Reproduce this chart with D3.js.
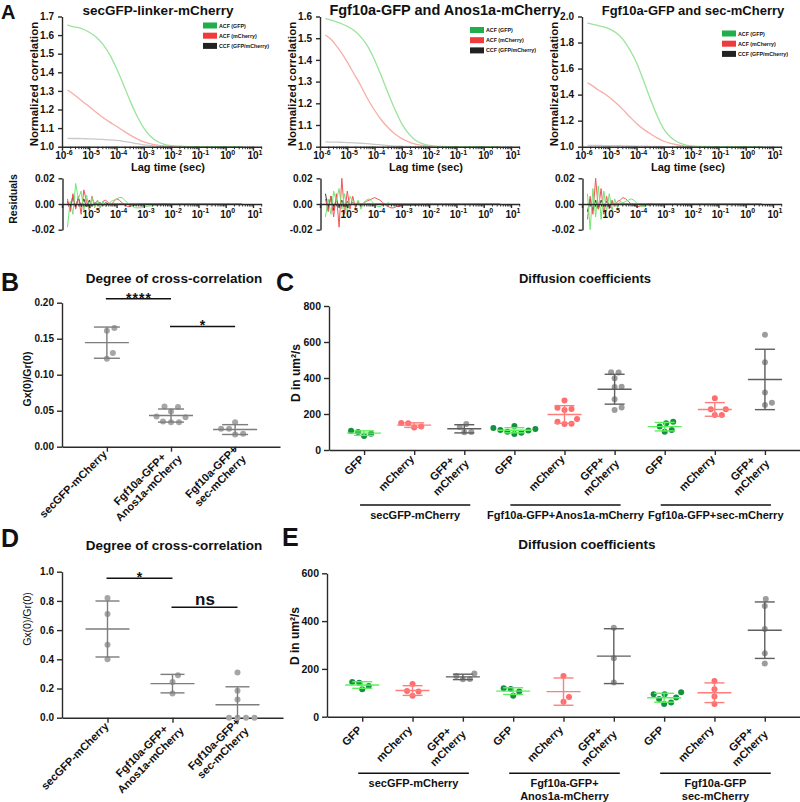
<!DOCTYPE html>
<html>
<head>
<meta charset="utf-8">
<script src="https://cdn.jsdelivr.net/npm/d3@7"></script>
<style>
html,body{margin:0;padding:0;background:#fff;}
svg{display:block;}
text{font-family:Arial,"Liberation Sans",Helvetica,sans-serif;}
</style>
</head>
<body>
<svg id="fig" width="800" height="802"></svg>
<script>
// ================= DATA =================
// Panel A – FCS correlation curves, lag time as log10(seconds)
const acfLag = [-5.8,-5.6,-5.4,-5.2,-5.0,-4.75,-4.5,-4.25,-4.0,-3.75,-3.5,-3.25,-3.0,-2.75,-2.5,-2.25,-2.0,-1.5,-1.0,0.0,0.6];
const gfp1 = [1.655,1.645,1.64,1.63,1.615,1.59,1.55,1.495,1.42,1.335,1.245,1.165,1.10,1.055,1.028,1.013,1.006,1.002,1.0,1.0,1.0];
const mch1 = [1.305,1.285,1.262,1.238,1.215,1.185,1.157,1.132,1.11,1.085,1.062,1.042,1.026,1.015,1.008,1.004,1.002,1.0,1.0,1.0,1.0];
const ccf1 = [1.045,1.044,1.044,1.043,1.042,1.041,1.039,1.037,1.034,1.029,1.023,1.016,1.010,1.006,1.003,1.001,1.0,1.0,1.0,1.0,1.0];
const gfp2 = [1.59,1.583,1.575,1.566,1.555,1.535,1.505,1.462,1.40,1.325,1.245,1.17,1.105,1.06,1.03,1.014,1.006,1.001,1.0,1.0,1.0];
const mch2 = [1.515,1.495,1.465,1.43,1.39,1.335,1.28,1.22,1.168,1.123,1.087,1.058,1.037,1.022,1.012,1.006,1.003,1.0,1.0,1.0,1.0];
const ccf2 = [1.022,1.021,1.021,1.02,1.019,1.018,1.016,1.014,1.011,1.008,1.005,1.003,1.002,1.001,1.0,1.0,1.0,1.0,1.0,1.0,1.0];
const gfp3 = [1.95,1.94,1.93,1.92,1.905,1.875,1.825,1.745,1.645,1.51,1.37,1.24,1.135,1.072,1.036,1.016,1.007,1.002,1.0,1.0,1.0];
const mch3 = [1.49,1.465,1.435,1.41,1.38,1.335,1.285,1.23,1.178,1.135,1.1,1.068,1.042,1.025,1.013,1.006,1.003,1.001,1.0,1.0,1.0];
const ccf3 = [1.01,1.01,1.01,1.009,1.009,1.008,1.007,1.006,1.005,1.004,1.003,1.002,1.001,1.0,1.0,1.0,1.0,1.0,1.0,1.0,1.0];

// Panel A – fit residuals
const resLag = [-5.8,-5.7,-5.6,-5.5,-5.4,-5.3,-5.2,-5.1,-5.0,-4.9,-4.8,-4.7,-4.6,-4.5,-4.4,-4.3,-4.2,-4.1,-4.0,-3.9,-3.8,-3.7,-3.6,-3.5,-3.4,-3.3,-3.2,-3.1,-3.0,-2.5,-2.0,-1.0,0.0,0.6];
const resG1 = [-0.018,0.002,-0.008,0.016,0.004,0.010,-0.005,0.007,-0.004,0.005,-0.003,0.003,-0.003,0.002,-0.002,0.000,0.002,0.003,0.004,0.005,0.005,0.003,0.001,-0.001,-0.002,-0.003,-0.003,-0.003,-0.002,-0.001,0,0,0,0];
const resR1 = [0.004,-0.006,0.008,-0.004,0.006,-0.008,0.011,0.002,-0.005,0.006,-0.002,0.003,-0.003,0.002,0.003,0.001,-0.001,0.002,0.004,0.003,0.001,-0.001,-0.002,-0.002,-0.001,-0.001,0,0,0,0,0,0,0,0];
const resK1 = [0.002,-0.004,0.006,-0.003,0.005,-0.002,0.004,-0.002,0.003,-0.002,0.001,0.000,0.001,-0.001,0.001,0,0,0,0,0,0,0,0,0,0,0,0,0,0,0,0,0,0,0];
const resG2 = [-0.010,0.004,-0.008,0.010,0.002,0.012,-0.004,0.008,-0.006,0.006,0.002,-0.002,0.003,-0.004,0.001,0.003,0.004,0.002,0.000,-0.002,-0.002,-0.001,0.000,0.001,0.000,-0.001,-0.001,0,0,0,0,0,0,0];
const resR2 = [0.004,-0.006,0.006,-0.010,0.008,-0.018,0.020,-0.008,0.010,-0.004,0.006,-0.003,0.002,-0.002,0.001,0.002,0.003,0.004,0.005,0.004,0.003,0.001,-0.001,-0.002,-0.003,-0.003,-0.002,-0.002,-0.001,-0.001,0,0,0,0];
const resK2 = [0.008,-0.004,0.006,-0.005,0.004,-0.003,0.003,-0.002,0.002,-0.001,0.001,0,0,0,0,0,0,0,0,0,0,0,0,0,0,0,0,0,0,0,0,0,0,0];
const resG3 = [0.008,-0.020,0.012,-0.010,0.014,-0.012,0.010,-0.006,0.008,-0.005,0.004,-0.003,0.002,0.001,0.002,0.003,0.004,0.003,0.001,-0.001,-0.002,-0.002,-0.001,-0.001,0,0,0,0,0,0,0,0,0,0];
const resR3 = [-0.012,0.006,-0.008,0.020,-0.004,0.012,-0.008,0.006,-0.004,0.003,-0.002,0.002,0.003,0.005,0.004,0.002,0.000,-0.001,-0.002,-0.002,-0.001,-0.001,0,0,0,0,0,0,0,0,0,0,0,0];
const resK3 = [-0.006,0.004,-0.005,0.003,-0.004,0.003,-0.002,0.002,-0.001,0.001,0,0,0,0,0,0,0,0,0,0,0,0,0,0,0,0,0,0,0,0,0,0,0,0];

const fcsTitles = ["secGFP-linker-mCherry","Fgf10a-GFP and Anos1a-mCherry","Fgf10a-GFP and sec-mCherry"];
const legendLabels = ["ACF (GFP)","ACF (mCherry)","CCF (GFP/mCherry)"];
const yTicksA1 = [1.0,1.1,1.2,1.3,1.4,1.5,1.6,1.7];
const yTicksA2 = [1.0,1.1,1.2,1.3,1.4,1.5,1.6];
const yTicksA3 = [1.0,1.2,1.4,1.6,1.8,2.0];
const resTicks = [-0.02,0,0.02];
const decadeExp = [-6,-5,-4,-3,-2,-1,0,1];

// Panels B & D – degree of cross-correlation
const ccCategories = [["secGFP-mCherry"],["Fgf10a-GFP+","Anos1a-mCherry"],["Fgf10a-GFP+","sec-mCherry"]];
const ccB = [[0.165,0.161,0.130,0.122],[0.055,0.049,0.056,0.042,0.041,0.034,0.034,0.035],[0.034,0.025,0.025,0.017,0.018]];
const ccD = [[0.82,0.71,0.50,0.40],[0.29,0.245,0.165],[0.31,0.185,0.125,0,0,0,0]];
const yTicksB = [0,0.05,0.10,0.15,0.20];
const yTicksD = [0,0.2,0.4,0.6,0.8,1.0];
const sigB = [{a:0,b:1,y:0.2055,label:"****"},{a:1,b:2,y:0.167,label:"*"}];
const sigD = [{a:0,b:1,y:0.955,label:"*"},{a:1,b:2,y:0.756,label:"ns"}];

// Panels C & E – diffusion coefficients
const diffLabels = [["GFP"],["mCherry"],["GFP+","mCherry"],["GFP"],["mCherry"],["GFP+","mCherry"],["GFP"],["mCherry"],["GFP+","mCherry"]];
const diffKind = ["gfp","mch","both","gfp","mch","both","gfp","mch","both"];
const diffC = [[100,107,78,90],[148,150,125,130],[128,145,100,98],[117,122,133,111,89,102,108,96],[275,228,235,222,157,172,144,146],[430,432,398,352,350,282,222,236],[157,148,130,111,102],[287,226,226,194,194],[640,487,320,263,250]];
const diffE = [[142,145,115,128],[137,108,105,88],[181,170,158,157],[116,88,105,119],[170,82,63],[372,245,143],[94,94,102,74,80,53,59],[149,115,84,53],[492,463,367,265,223]];
const groupsC = [["secGFP-mCherry"],["Fgf10a-GFP+Anos1a-mCherry"],["Fgf10a-GFP+sec-mCherry"]];
const groupsE = [["secGFP-mCherry"],["Fgf10a-GFP+","Anos1a-mCherry"],["Fgf10a-GFP","sec-mCherry"]];
const yTicksC = [0,200,400,600,800];
const yTicksE = [0,200,400,600];

// ================= DRAWING =================
const svg = d3.select("#fig");
const INK = "#111";
const AX = "#2a2a2a";
const kindStyle = {
  gfp:{dot:"#13913e", line:"#5cf05c"},
  mch:{dot:"#ff6d6d", line:"#ff7d7d"},
  both:{dot:"#9c9c9c", line:"#5e5e5e"},
  cc:{dot:"#a6a6a6", line:"#7d7d7d"}
};

function styleAxis(sel, fs, weight){
  sel.attr("font-family",null);
  sel.select(".domain").attr("stroke",AX).attr("stroke-width",1.4);
  sel.selectAll(".tick line").attr("stroke",AX).attr("stroke-width",1.4);
  sel.selectAll(".tick text").attr("font-size",fs).attr("font-weight",weight||"bold").attr("fill",INK);
}

function txt(g, x, y, s, fs, opts){
  opts = opts||{};
  const t = g.append("text").attr("x",x).attr("y",y).attr("font-size",fs)
    .attr("font-weight",opts.weight||"bold").attr("fill",INK)
    .attr("text-anchor",opts.anchor||"middle").text(s);
  if(opts.rotate) t.attr("transform",`rotate(${opts.rotate},${x},${y})`);
  if(opts.ls) t.attr("letter-spacing",opts.ls);
  return t;
}

// ---------- Panel A ----------
const fcsCfg = [
  {gfp:gfp1,mch:mch1,ccf:ccf1,rg:resG1,rr:resR1,rk:resK1,yTicks:yTicksA1,yMax:1.7,left:62,right:253,tx:158,tsize:13.5,lx:203,ly:25.5,ylx:38,resLabel:true},
  {gfp:gfp2,mch:mch2,ccf:ccf2,rg:resG2,rr:resR2,rk:resK2,yTicks:yTicksA2,yMax:1.6,left:320,right:511,tx:445,tsize:14.5,lx:470,ly:30,ylx:296,resLabel:false},
  {gfp:gfp3,mch:mch3,ccf:ccf3,rg:resG3,rr:resR3,rk:resK3,yTicks:yTicksA3,yMax:2.0,left:582,right:773,tx:693,tsize:13,lx:722,ly:33.5,ylx:558,resLabel:false}
];
const minorVals = [];
d3.range(-6,1).forEach(e=>{ for(let m=2;m<=9;m++) minorVals.push(m*Math.pow(10,e)); });
minorVals.push(20);

fcsCfg.forEach((c,idx)=>{
  const g = svg.append("g");
  const x = d3.scaleLog().domain([1e-6,10]).range([c.left,c.right]);
  const y = d3.scaleLinear().domain([1,c.yMax]).range([146.7,16.5]);
  const ext = 9;
  const line = d3.line().x((d,i)=>x(Math.pow(10,acfLag[i]))).y(d=>y(d)).curve(d3.curveMonotoneX);
  [[c.ccf,"#c9c9c9"],[c.mch,"#f7aea6"],[c.gfp,"#9be49b"]].forEach(([arr,col])=>{
    g.append("path").attr("d",line(arr)).attr("fill","none").attr("stroke",col).attr("stroke-width",1.3);
  });
  // y axis
  const ya = g.append("g").attr("transform",`translate(${c.left},0)`)
    .call(d3.axisLeft(y).tickValues(c.yTicks).tickFormat(v=>v.toFixed(1)).tickSize(4).tickSizeOuter(0).tickPadding(4));
  styleAxis(ya,10);
  // x axis
  const xa = g.append("g").attr("transform","translate(0,146.7)")
    .call(d3.axisBottom(x).tickValues(decadeExp.map(e=>Math.pow(10,e))).tickFormat(()=>"").tickSize(4).tickSizeOuter(0));
  styleAxis(xa,10);
  xa.select(".domain").attr("d",`M${c.left},0.5H${c.right+ext}`);
  const xm = g.append("g").attr("transform","translate(0,146.7)")
    .call(d3.axisBottom(x).tickValues(minorVals).tickFormat(()=>"").tickSize(2.5));
  xm.select(".domain").remove();
  xm.selectAll(".tick line").attr("stroke",AX).attr("stroke-width",1);
  decadeExp.forEach(e=>{
    const t = g.append("text").attr("x",x(Math.pow(10,e))+2).attr("y",159).attr("text-anchor","middle")
      .attr("font-size",10).attr("font-weight","bold").attr("fill",INK);
    t.append("tspan").text("10");
    t.append("tspan").attr("dy",-4.5).attr("font-size",7).text(String(e));
  });
  txt(g,(c.left+c.right+ext)/2+6,171,"Lag time (sec)",11);
  txt(g,c.ylx,84,"Normalized correlation",11.5,{rotate:-90});
  txt(g,c.tx,15,fcsTitles[idx],c.tsize);
  // legend
  const lcols = ["#1fae4b","#ef3b3b","#222222"];
  legendLabels.forEach((s,i)=>{
    const yy = c.ly + i*10.2;
    g.append("rect").attr("x",c.lx).attr("y",yy-3).attr("width",14).attr("height",6).attr("fill",lcols[i]);
    txt(g,c.lx+16,yy+2,s,5.3,{anchor:"start"});
  });

  // residuals
  const ry = d3.scaleLinear().domain([-0.02,0.02]).range([229.7,178.3]);
  const rline = d3.line().x((d,i)=>x(Math.pow(10,resLag[i]))).y(d=>ry(d));
  [[c.rk,"#3a3a3a"],[c.rr,"#f25555"],[c.rg,"#72e472"]].forEach(([arr,col])=>{
    g.append("path").attr("d",rline(arr)).attr("fill","none").attr("stroke",col).attr("stroke-width",1);
  });
  const rya = g.append("g").attr("transform",`translate(${c.left+0.5},0)`)
    .call(d3.axisLeft(ry).tickValues(resTicks).tickFormat(v=>v.toFixed(2)).tickSize(4).tickSizeOuter(0).tickPadding(4));
  styleAxis(rya,10);
  const rxa = g.append("g").attr("transform",`translate(0,${ry(0)})`)
    .call(d3.axisBottom(x).tickValues(decadeExp.map(e=>Math.pow(10,e))).tickFormat(()=>"").tickSize(4).tickSizeOuter(0));
  styleAxis(rxa,10);
  rxa.select(".domain").attr("d",`M${c.left},0.5H${c.right+ext}`);
  const rxm = g.append("g").attr("transform",`translate(0,${ry(0)})`)
    .call(d3.axisBottom(x).tickValues(minorVals).tickFormat(()=>"").tickSize(2.5));
  rxm.select(".domain").remove();
  rxm.selectAll(".tick line").attr("stroke",AX).attr("stroke-width",1);
  decadeExp.filter(e=>e>-6).forEach(e=>{
    const t = g.append("text").attr("x",x(Math.pow(10,e))+2).attr("y",217.5).attr("text-anchor","middle")
      .attr("font-size",10).attr("font-weight","bold").attr("fill",INK);
    t.append("tspan").text("10");
    t.append("tspan").attr("dy",-4.5).attr("font-size",7).text(String(e));
  });
  if(c.resLabel) txt(g,17,199,"Residuals",10.5,{rotate:-90});
});
txt(svg,1,19,"A",20,{anchor:"start"});

// ---------- helpers for dot plots ----------
function beeswarm(vals, y, D){
  const pts = vals.map(v=>({v, py:y(v)})).sort((a,b)=>a.v-b.v);
  const placed = [];
  pts.forEach(p=>{
    for(let k=0;k<600;k++){
      const dx = (k%2===1?1:-1)*Math.ceil(k/2)*0.5;
      if(placed.every(q=>(q.dx-dx)*(q.dx-dx)+(q.py-p.py)*(q.py-p.py) >= D*D)){ p.dx = dx; break; }
    }
    placed.push(p);
  });
  return pts;
}

function rotLabel(g, x, y, lines, fs){
  const grp = g.append("g").attr("transform",`translate(${x},${y}) rotate(-45)`);
  const lh = fs*1.15;
  const ts = lines.map((s,i)=>grp.append("text").attr("text-anchor","end").attr("font-size",fs)
    .attr("font-weight","bold").attr("fill",INK)
    .attr("y",(i-(lines.length-1)/2)*lh + fs*0.35).text(s));
  const w = ts.map(t=>t.node().getComputedTextLength());
  const mw = d3.max(w);
  ts.forEach((t,i)=>t.attr("x",-(mw-w[i])/2));
}

function dotPanel(o){
  const g = svg.append("g");
  const n = o.data.length;
  const x = d3.scalePoint().domain(d3.range(n)).range([o.x0,o.x1]).padding(0.7);
  const y = d3.scaleLinear().domain([0,o.yMax]).range([o.yBase,o.yTop]);
  const ya = g.append("g").attr("transform",`translate(${o.x0},0)`)
    .call(d3.axisLeft(y).tickValues(o.yTicks).tickFormat(o.fmt).tickSize(5).tickSizeOuter(0).tickPadding(3));
  styleAxis(ya,o.tickFs);
  const xa = g.append("g").attr("transform",`translate(0,${o.yBase})`)
    .call(d3.axisBottom(x).tickFormat(()=>"").tickSize(5).tickSizeOuter(0));
  styleAxis(xa,o.tickFs);
  o.labels.forEach((lines,i)=>rotLabel(g, x(i)+o.ldx+(lines.length>1?o.mdx:0), o.yBase+o.ldy, lines, 11));
  o.data.forEach((vals,i)=>{
    const st = kindStyle[o.kind(i)];
    const cx = x(i);
    beeswarm(vals,y,o.D).forEach(p=>{
      g.append("circle").attr("cx",cx+p.dx).attr("cy",p.py).attr("r",3).attr("fill",st.dot);
    });
    const m = d3.mean(vals), s = d3.deviation(vals);
    const lo = Math.max(0,m-s), hi = m+s;
    const ln = (x1,y1,x2,y2)=>g.append("line").attr("x1",x1).attr("y1",y1).attr("x2",x2).attr("y2",y2)
      .attr("stroke",st.line).attr("stroke-width",1.4);
    ln(cx,y(lo),cx,y(hi));
    ln(cx-o.hw,y(m),cx+o.hw,y(m));
    ln(cx-o.cw,y(hi),cx+o.cw,y(hi));
    if(m-s>=0) ln(cx-o.cw,y(lo),cx+o.cw,y(lo));
  });
  (o.sig||[]).forEach(s=>{
    const yy = y(s.y);
    g.append("line").attr("x1",x(s.a)-1).attr("x2",x(s.b)).attr("y1",yy).attr("y2",yy)
      .attr("stroke",INK).attr("stroke-width",1.4);
    const star = /^\*+$/.test(s.label);
    txt(g,(x(s.a)+x(s.b))/2, star?yy+4:yy-2.5, s.label, star?14:17, {ls:star?1:0});
  });
  (o.groups||[]).forEach((lines,gi)=>{
    const a = x(gi*3)-4, b = x(gi*3+2)+6;
    g.append("line").attr("x1",a).attr("x2",b).attr("y1",o.groupY).attr("y2",o.groupY)
      .attr("stroke",INK).attr("stroke-width",1.6);
    lines.forEach((s,li)=>txt(g,(a+b)/2,o.groupY+13.5+li*13,s,11));
  });
  txt(g,o.titleX,o.titleY,o.title,o.titleSize);
  txt(g,o.ylx,o.yly,o.ylabel,o.ylSize,{rotate:-90,weight:o.ylWeight});
}

// ---------- Panel B ----------
dotPanel({data:ccB,labels:ccCategories,kind:()=>"cc",x0:62,x1:280,yBase:446.7,yTop:302.7,yMax:0.2,
  yTicks:yTicksB,fmt:v=>v.toFixed(2),tickFs:10,ldx:-2,ldy:5.5,mdx:6.5,D:8,hw:22,cw:13,sig:sigB,
  title:"Degree of cross-correlation",titleX:174,titleY:283,titleSize:13.5,
  ylabel:"Gx(0)/Gr(0)",ylx:31,yly:379,ylSize:10.5,ylWeight:"bold"});
txt(svg,1,291,"B",25,{anchor:"start"});

// ---------- Panel D ----------
dotPanel({data:ccD,labels:ccCategories,kind:()=>"cc",x0:62,x1:283,yBase:717.7,yTop:571.7,yMax:1.0,
  yTicks:yTicksD,fmt:v=>v.toFixed(1),tickFs:10,ldx:-1,ldy:6.5,mdx:6,D:8.5,hw:22,cw:12,sig:sigD,
  title:"Degree of cross-correlation",titleX:174,titleY:550,titleSize:13.5,
  ylabel:"Gx(0)/Gr(0)",ylx:31,yly:619,ylSize:10.5,ylWeight:"normal"});
txt(svg,1,547,"D",25,{anchor:"start"});

// ---------- Panel C ----------
dotPanel({data:diffC,labels:diffLabels,kind:i=>diffKind[i],x0:329,x1:800,yBase:450,yTop:306,yMax:800,
  yTicks:yTicksC,fmt:d3.format("d"),tickFs:10.5,ldx:-2,ldy:7,mdx:0,D:7,hw:17,cw:10,groups:groupsC,groupY:505,
  title:"Diffusion coefficients",titleX:585,titleY:283,titleSize:13,
  ylabel:"D in um²/s",ylx:300,yly:373,ylSize:12,ylWeight:"bold"});
txt(svg,276,291,"C",25,{anchor:"start"});

// ---------- Panel E ----------
dotPanel({data:diffE,labels:diffLabels,kind:i=>diffKind[i],x0:327,x1:800,yBase:716.7,yTop:573.3,yMax:600,
  yTicks:yTicksE,fmt:d3.format("d"),tickFs:10.5,ldx:-2.5,ldy:11,mdx:-1,D:7,hw:17,cw:10,groups:groupsE,groupY:773.3,
  title:"Diffusion coefficients",titleX:587,titleY:549,titleSize:13.5,
  ylabel:"D in um²/s",ylx:299,yly:636,ylSize:12,ylWeight:"bold"});
txt(svg,282,546,"E",25,{anchor:"start"});
</script>
</body>
</html>
